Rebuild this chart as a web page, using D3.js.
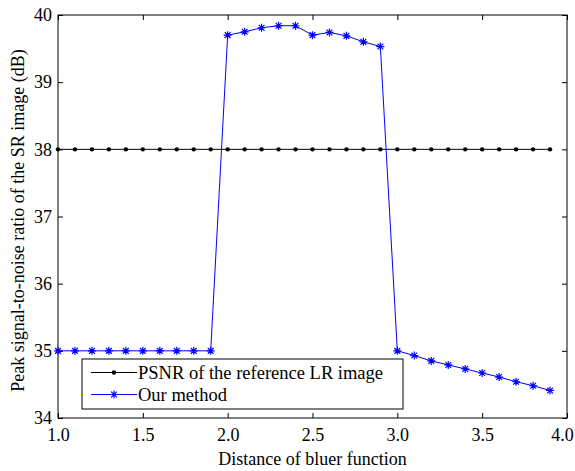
<!DOCTYPE html>
<html>
<head>
<meta charset="utf-8">
<script src="https://cdn.jsdelivr.net/npm/d3@7"></script>
<style>
  body { margin: 0; background: #fff; }
  svg { display: block; }
</style>
</head>
<body>
<svg width="575" height="471"></svg>
<script>
'use strict'

// x positions (distance of blur function)
const distances = d3.range(30).map(i => +(1 + i * 0.1).toFixed(1))
// reference LR image PSNR (flat)
const refPsnr = distances.map(() => 38)
// our method
const ourPsnr = [
  35, 35, 35, 35, 35, 35, 35, 35, 35, 35,
  39.70, 39.75, 39.81, 39.84, 39.84, 39.70, 39.74, 39.69, 39.60, 39.53,
  35.00, 34.93, 34.85, 34.79, 34.73, 34.67, 34.61, 34.54, 34.48, 34.41
]
const xTicks = [1.0, 1.5, 2.0, 2.5, 3.0, 3.5, 4.0]
const yTicks = [34, 35, 36, 37, 38, 39, 40]
const legendLabels = ['PSNR of the reference LR image', 'Our method']

const serif = "'Liberation Serif', 'Times New Roman', serif"
const margin = { top: 15, right: 8, bottom: 53, left: 58 }
const width = 575
const height = 471
const svg = d3.select('svg')

const x = d3.scaleLinear().domain([1, 4]).range([margin.left, width - margin.right])
const y = d3.scaleLinear().domain([34, 40]).range([height - margin.bottom, margin.top])

// frame
svg.append('rect')
  .attr('x', x(1)).attr('y', y(40))
  .attr('width', x(4) - x(1)).attr('height', y(34) - y(40))
  .attr('fill', 'none').attr('stroke', '#000').attr('stroke-width', 1)

const fmt = d3.format('.1f')
const tick = 5

// bottom / top axes, ticks inward
svg.append('g')
  .attr('transform', `translate(0,${y(34)})`)
  .call(d3.axisBottom(x).tickValues(xTicks).tickFormat(fmt).tickSizeInner(-tick).tickSizeOuter(0).tickPadding(10))
svg.append('g')
  .attr('transform', `translate(0,${y(40)})`)
  .call(d3.axisTop(x).tickValues(xTicks).tickFormat('').tickSizeInner(-tick).tickSizeOuter(0))
svg.append('g')
  .attr('transform', `translate(${x(1)},0)`)
  .call(d3.axisLeft(y).tickValues(yTicks).tickFormat(d3.format('d')).tickSizeInner(-tick).tickSizeOuter(0).tickPadding(6))
svg.append('g')
  .attr('transform', `translate(${x(4)},0)`)
  .call(d3.axisRight(y).tickValues(yTicks).tickFormat('').tickSizeInner(-tick).tickSizeOuter(0))

svg.selectAll('.domain').remove()
svg.selectAll('.tick line').attr('stroke', '#000')
svg.selectAll('.tick text')
  .attr('fill', '#000')
  .style('font-family', serif)
  .style('font-size', '18px')
// last x label sits at the right edge, pull it in a bit
svg.selectAll('.tick text').filter(d => d === 4).attr('dx', -5)

// axis titles
svg.append('text')
  .attr('x', (x(1) + x(4)) / 2).attr('y', 465)
  .attr('text-anchor', 'middle')
  .style('font-family', serif).style('font-size', '18px')
  .text('Distance of bluer function')
svg.append('text')
  .attr('transform', `translate(24,${(y(34) + y(40)) / 2 + 4}) rotate(-90)`)
  .attr('text-anchor', 'middle')
  .style('font-family', serif).style('font-size', '18px')
  .text('Peak signal-to-noise ratio of the SR image (dB)')

const line = d3.line().x(d => x(d[0])).y(d => y(d[1]))
const refData = distances.map((d, i) => [d, refPsnr[i]])
const ourData = distances.map((d, i) => [d, ourPsnr[i]])

function star (g, cx, cy, r) {
  const a = r * 0.72
  g.append('path')
    .attr('d', `M${cx - r},${cy}H${cx + r}M${cx},${cy - r}V${cy + r}` +
      `M${cx - a},${cy - a}L${cx + a},${cy + a}M${cx - a},${cy + a}L${cx + a},${cy - a}`)
    .attr('stroke', '#0000ff').attr('stroke-width', 1.2).attr('fill', 'none')
}

svg.append('path').datum(refData).attr('d', line)
  .attr('fill', 'none').attr('stroke', '#000').attr('stroke-width', 1)
svg.append('g').selectAll('circle').data(refData).join('circle')
  .attr('cx', d => x(d[0])).attr('cy', d => y(d[1])).attr('r', 2.2).attr('fill', '#000')

svg.append('path').datum(ourData).attr('d', line)
  .attr('fill', 'none').attr('stroke', '#0000ff').attr('stroke-width', 1)
const stars = svg.append('g')
ourData.forEach(d => star(stars, x(d[0]), y(d[1]), 4))

// legend
const lg = svg.append('g')
lg.append('rect')
  .attr('x', 82).attr('y', 359).attr('width', 321).attr('height', 50)
  .attr('fill', '#fff').attr('stroke', '#000').attr('stroke-width', 1)
const rows = [372.5, 394.5]
lg.append('line').attr('x1', 91).attr('x2', 137).attr('y1', rows[0]).attr('y2', rows[0]).attr('stroke', '#000')
lg.append('circle').attr('cx', 114).attr('cy', rows[0]).attr('r', 2.2).attr('fill', '#000')
lg.append('line').attr('x1', 91).attr('x2', 137).attr('y1', rows[1]).attr('y2', rows[1]).attr('stroke', '#0000ff')
star(lg, 114, rows[1], 4)
legendLabels.forEach((t, i) => {
  lg.append('text').attr('x', 138).attr('y', rows[i] + 6)
    .style('font-family', serif).style('font-size', '18.5px').text(t)
})
</script>
</body>
</html>
